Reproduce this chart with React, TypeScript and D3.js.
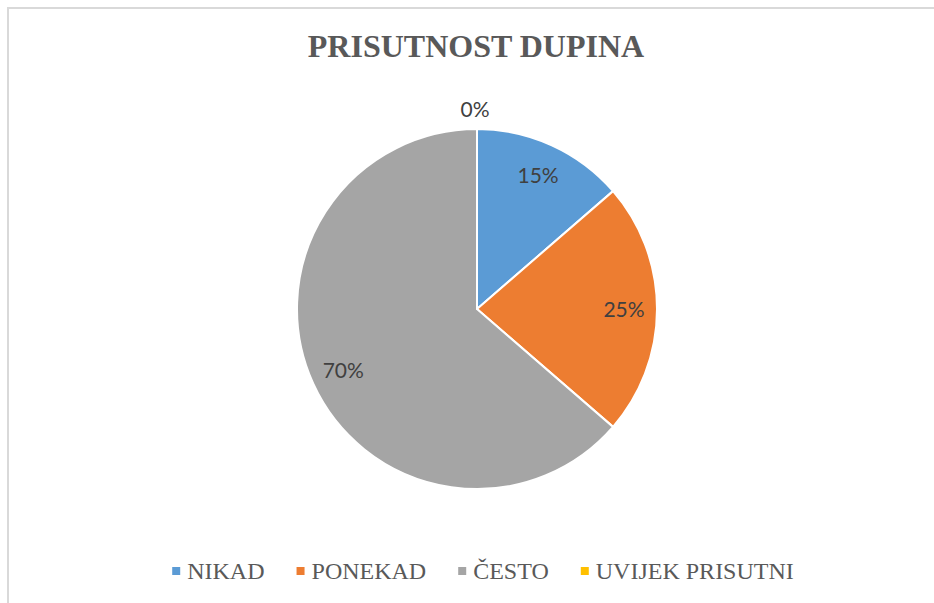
import React, { useEffect, useRef } from "react";
import * as d3 from "d3";

const TITLE = "PRISUTNOST DUPINA";
const CATEGORIES = ["NIKAD", "PONEKAD", "ČESTO", "UVIJEK PRISUTNI"];
const VALUES = [15, 25, 70, 0];
const LABELS = ["15%", "25%", "70%", "0%"];
const COLORS = ["#5B9BD5", "#ED7D31", "#A5A5A5", "#FFC000"];

export default function App() {
  const ref = useRef<SVGSVGElement | null>(null);

  useEffect(() => {
    const svg = d3.select(ref.current);
    svg.selectAll("*").remove();
    const W = 934, H = 603;

    svg.append("rect").attr("x", 0).attr("y", 0).attr("width", W).attr("height", H).attr("fill", "#fff");
    // border
    svg.append("path").attr("d", `M8,${H + 5} L8,8 L${W + 5},8`).attr("fill", "none").attr("stroke", "#d9d9d9").attr("stroke-width", 2);

    svg.append("text").attr("x", 476).attr("y", 57).attr("text-anchor", "middle")
      .attr("font-family", "'Liberation Serif', 'Times New Roman', serif").attr("font-weight", "bold")
      .attr("font-size", 32).attr("fill", "#595959").text(TITLE);

    const cx = 477, cy = 309, r = 180;
    const data = CATEGORIES.map((c, i) => ({ c, v: VALUES[i], label: LABELS[i], color: COLORS[i] }));
    const pie = d3.pie<any>().sort(null).value((d: any) => d.v);
    const arcs = pie(data);
    const arc = d3.arc<any>().innerRadius(0).outerRadius(r);
    const g = svg.append("g").attr("transform", `translate(${cx},${cy})`);
    g.selectAll("path.s").data(arcs).enter().append("path")
      .attr("d", (d: any) => arc(d) as string)
      .attr("fill", (d: any) => d.data.color)
      .attr("stroke", "#fff").attr("stroke-width", 2).attr("stroke-linejoin", "round");

    arcs.forEach((d: any) => {
      const mid = (d.startAngle + d.endAngle) / 2;
      const inside = d.data.v > 0;
      const lr = inside ? 147 : 200;
      const x = Math.sin(mid) * lr + (inside ? 0 : -2);
      const y = -Math.cos(mid) * lr;
      g.append("text").attr("x", x).attr("y", y + 8).attr("text-anchor", "middle")
        .attr("font-family", "Lato, 'Noto Sans', sans-serif").attr("font-size", 21)
        .attr("fill", "#404040").text(d.data.label);
    });

    // legend
    const legend = svg.append("g");
    const fontFam = "'Liberation Serif', 'Times New Roman', serif";
    const items: { w: number }[] = [];
    const texts = data.map((d) => {
      const t = legend.append("text").attr("font-family", fontFam).attr("font-size", 24)
        .attr("fill", "#595959").attr("y", 579).text(d.c);
      const w = (t.node() as SVGTextElement).getComputedTextLength();
      items.push({ w });
      return t;
    });
    const mk = 8, gap1 = 7, gap2 = 32;
    const total = items.reduce((s, it) => s + mk + gap1 + it.w, 0) + gap2 * (items.length - 1);
    let x = 172 + 0 * total;
    const startX = 483 - total / 2;
    x = startX;
    data.forEach((d, i) => {
      legend.append("rect").attr("x", x).attr("y", 567).attr("width", mk).attr("height", mk).attr("fill", d.color);
      texts[i].attr("x", x + mk + gap1);
      x += mk + gap1 + items[i].w + gap2;
    });
  }, []);

  return (
    <svg ref={ref} width={934} height={603}
      style={{ position: "fixed", left: 0, top: 0, display: "block" }} />
  );
}
